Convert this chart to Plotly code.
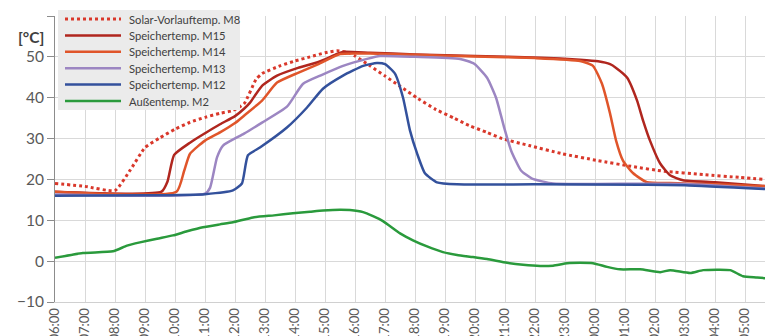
import plotly.graph_objects as go

# ---- data (hours since 0:00 of day 1; 24+ = next day) ----
tick_hours = list(range(6, 31))
tick_labels = [f"{h % 24:02d}:00" for h in tick_hours]

t_m8 = [6, 7, 8, 8.5, 9, 9.5, 10, 10.5, 11, 11.5, 11.9, 12.3, 12.7, 12.9, 13.5, 14, 14.5, 15, 15.4, 15.8,
        16.0, 16.5, 17.0, 17.5, 18.1, 18.7, 19.3, 19.8, 20.4, 20.9, 21.8, 22.9, 24.1, 25.2, 26.3, 27.6, 28.8, 30]
v_m8 = [19, 18.3, 17.3, 22.2, 27.8, 30.2, 32.3, 34, 35.2, 36.2, 36.8, 38.5, 44.5, 45.9, 47.8, 49, 50, 51, 51.5, 51,
        50.2, 47.8, 45.3, 42.8, 39.8, 37.1, 35, 33.2, 31.5, 30, 28.3, 26.3, 24.6, 23.2, 22, 21.2, 20.5, 19.8]

t_m15 = [6, 9.55, 9.75, 9.97, 10.5, 11, 11.5, 12, 12.3, 12.5, 12.9, 13.4, 14.1, 14.8, 15.4, 15.6, 16.5, 18, 20,
         22.2, 23.5, 24.1, 24.5, 24.7, 25.07, 25.4, 25.6, 25.83, 26.17, 26.5, 26.93, 28, 30]
v_m15 = [17, 17, 19.5, 26, 29, 31.3, 33.5, 35.5, 37.3, 38.8, 42.9, 45.4, 47.3, 48.8, 50.7, 51.2, 51, 50.6, 50.2,
         49.8, 49.3, 48.9, 48.2, 47.3, 44.9, 39.3, 34.4, 29.5, 23.9, 21, 19.8, 19.3, 18.2]

t_m14 = [6, 10.05, 10.3, 10.5, 11, 11.5, 12, 12.3, 12.9, 13.4, 14.1, 14.8, 15.5, 16.5, 18, 20, 22, 23.5, 23.93,
         24.23, 24.5, 24.7, 24.93, 25.27, 25.73, 26.5, 28, 30]
v_m14 = [17, 17, 22, 26.3, 29.5, 31.5, 33.8, 35.6, 39.3, 43.7, 46.1, 48.3, 50.7, 50.8, 50.5, 50.1, 49.7, 49, 47.8,
         43.4, 36.1, 29.5, 24.6, 21.5, 19.3, 19.1, 18.8, 18.2]

t_m13 = [6, 11.0, 11.17, 11.4, 11.6, 12.3, 12.9, 13.73, 14.27, 14.9, 15.6, 16.4, 16.83, 18, 19.5, 19.97, 20.4,
         20.7, 20.97, 21.2, 21.53, 21.9, 22.6, 24, 27, 30]
v_m13 = [16.3, 16.5, 18, 25.4, 28.3, 31.2, 33.9, 37.8, 43.4, 45.6, 47.8, 49.5, 50.2, 50, 49.5, 48.3, 44.9,
         40, 32.7, 27.1, 22.2, 20.2, 19, 18.9, 18.9, 17.6]

t_m12 = [6, 9, 11.0, 11.93, 12.23, 12.43, 12.83, 13.73, 14.4, 14.93, 15.6, 16.27, 16.73, 17.0, 17.33, 17.6,
         17.83, 18.07, 18.33, 18.73, 19.4, 22, 25.5, 27, 30]
v_m12 = [16, 16.1, 16.4, 17.3, 19, 25.9, 27.8, 32.7, 37.6, 42.2, 45.4, 47.8, 48.5, 48.2, 45.9, 40,
         32, 26.3, 21.5, 19.3, 18.8, 18.8, 18.7, 18.6, 17.5]

t_m2 = [6, 6.93, 7.93, 8.4, 8.83, 9.4, 9.93, 10.4, 10.93, 11.5, 11.93, 12.6, 13.3, 13.93, 14.5, 14.93, 15.5,
        15.83, 16.27, 16.6, 16.93, 17.5, 17.93, 18.4, 18.93, 19.4, 19.93, 20.4, 21.07, 21.6, 22.17, 22.6, 23.07,
        23.5, 23.93, 24.4, 24.83, 25.5, 26.17, 26.5, 27.17, 27.6, 28.5, 28.93, 29.4, 30]
v_m2 = [0.8, 2, 2.4, 3.8, 4.6, 5.5, 6.3, 7.3, 8.3, 9, 9.5, 10.7, 11.2, 11.7, 12.1, 12.4, 12.6,
        12.5, 12, 11, 9.8, 6.8, 5.1, 3.6, 2.2, 1.5, 1, 0.5, -0.4, -0.9, -1.2, -1.1, -0.5,
        -0.4, -0.5, -1.4, -2, -2, -2.7, -2.2, -2.9, -2.2, -2.2, -3.7, -4, -4.4]

series = [
    ("Solar-Vorlauftemp. M8", t_m8, v_m8, "#d9382b", "3px,3px", 3),
    ("Speichertemp. M15", t_m15, v_m15, "#b0261e", "solid", 2.5),
    ("Speichertemp. M14", t_m14, v_m14, "#e0552a", "solid", 2.5),
    ("Speichertemp. M13", t_m13, v_m13, "#9c86c2", "solid", 2.5),
    ("Speichertemp. M12", t_m12, v_m12, "#33519c", "solid", 2.5),
    ("Außentemp. M2", t_m2, v_m2, "#2a9a3c", "solid", 2.5),
]

# page is 773x336; the html body adds an 8px margin, so the figure is 8px smaller
OFF = 8
W, H = 773 - OFF, 336 - OFF
ML, MR, MT, MB = 55 - OFF, 0, 16 - OFF, 34
PW, PH = W - ML - MR, H - MT - MB


def px_x(p):  # page pixel -> paper fraction
    return (p - OFF - ML) / PW


def px_y(p):
    return (H - MB - (p - OFF)) / PH


fig = go.Figure()
for name, t, v, col, dash, w in series:
    fig.add_trace(go.Scatter(x=t, y=v, name=name, mode="lines", showlegend=False,
                             line=dict(color=col, dash=dash, width=w, shape="spline", smoothing=0.5)))

FONT = "Lato, Open Sans, sans-serif"

# manual legend (compact rows like the reference)
shapes = [dict(type="rect", xref="paper", yref="paper", layer="above",
               x0=px_x(58), x1=px_x(240), y0=px_y(110), y1=px_y(10),
               fillcolor="#ebebeb", line=dict(width=0))]
annotations = []
row0, rowgap = 19, 16.4
for i, (name, t, v, col, dash, w) in enumerate(series):
    yy = row0 + i * rowgap
    shapes.append(dict(type="line", xref="paper", yref="paper", layer="above",
                       x0=px_x(65), x1=px_x(121), y0=px_y(yy), y1=px_y(yy),
                       line=dict(color=col, width=w, dash=dash)))
    annotations.append(dict(text=name, xref="paper", yref="paper", x=px_x(127), y=px_y(yy),
                            xanchor="left", yanchor="middle", showarrow=False,
                            font=dict(size=11.2, color="#404040", family=FONT)))
annotations.append(dict(text="<b>[°C]</b>", xref="paper", yref="paper", x=px_x(31), y=px_y(37),
                        xanchor="center", yanchor="middle", showarrow=False,
                        font=dict(size=15.5, color="#404040", family=FONT)))

fig.update_layout(
    width=W, height=H,
    margin=dict(l=ML, r=MR, t=MT, b=MB, autoexpand=False),
    paper_bgcolor="white", plot_bgcolor="white",
    font=dict(family=FONT, color="#595959"),
    showlegend=False,
    shapes=shapes, annotations=annotations,
    xaxis=dict(range=[6, 29.93], tickmode="array", tickvals=tick_hours, ticktext=tick_labels,
               tickangle=-90, tickfont=dict(size=13, color="#595959"), automargin=False,
               showgrid=True, gridcolor="#d9d9d9", gridwidth=1,
               showline=True, linecolor="#d0d0d0", ticks="", zeroline=False),
    xaxis2=dict(range=[6, 29.93], overlaying="x", anchor="free", position=10 / 70, automargin=False,
                tickmode="array", tickvals=tick_hours, showticklabels=False,
                showgrid=False, showline=True, linecolor="#8c8c8c", linewidth=1,
                ticks="outside", ticklen=5, tickcolor="#8c8c8c", zeroline=False),
    yaxis=dict(range=[-10, 60], dtick=10, tick0=0, tickfont=dict(size=15.5, color="#595959"),
               automargin=False,
               showgrid=True, gridcolor="#d9d9d9", gridwidth=1,
               showline=True, linecolor="#8c8c8c", ticks="outside", ticklen=7, tickcolor="#8c8c8c",
               ticklabelstandoff=0, zeroline=False),
)

fig.write_html("out.html")
